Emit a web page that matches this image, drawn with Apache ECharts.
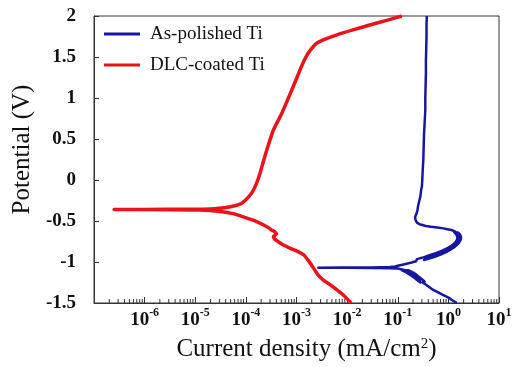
<!DOCTYPE html>
<html><head><meta charset="utf-8">
<script src="https://cdn.jsdelivr.net/npm/echarts@6/dist/echarts.min.js"></script>
<style>html,body{margin:0;padding:0;background:#fff}#c{width:516px;height:367px}</style>
</head><body><div id="c"></div>
<script>
const seriesNames = ['As-polished Ti', 'DLC-coated Ti'];
// As-polished Ti : potential (V) and current density (mA/cm2), noisy bands traced along both edges
const bluePotential = [-1.50,-1.48,-1.46,-1.44,-1.42,-1.40,-1.37,-1.34,-1.31,-1.28,-1.25,-1.24,-1.21,-1.18,-1.15,-1.12,-1.10,-1.10,-1.13,-1.16,-1.19,-1.22,-1.25,-1.22,-1.19,-1.16,-1.13,-1.10,-1.09,-1.08,-1.076,-1.073,-1.071,-1.070,-1.068,-1.066,-1.062,-1.055,-1.045,-1.03,-1.01,-0.99,-0.965,-0.94,-0.915,-0.89,-0.865,-0.84,-0.81,-0.78,-0.75,-0.72,-0.69,-0.66,-0.635,-0.64,-0.67,-0.70,-0.73,-0.76,-0.79,-0.82,-0.85,-0.88,-0.91,-0.94,-0.96,-0.975,-0.955,-0.93,-0.90,-0.87,-0.84,-0.81,-0.78,-0.75,-0.72,-0.69,-0.66,-0.63,-0.61,-0.60,-0.59,-0.58,-0.57,-0.56,-0.54,-0.52,-0.49,-0.45,-0.41,-0.37,-0.33,-0.28,-0.20,-0.12,-0.08,0.0,0.1,0.25,0.4,0.55,0.7,0.85,1.0,1.15,1.3,1.45,1.6,1.75,1.9,2.0];
const blueCurrent = [1.47,1.3,1.15,1.05,0.9,0.78,0.63,0.5,0.43,0.37,0.31,0.34,0.30,0.26,0.23,0.19,0.16,0.12,0.15,0.18,0.21,0.24,0.28,0.27,0.23,0.2,0.17,0.14,0.12,0.1,0.07,0.03,0.01,0.0027,0.008,0.03,0.07,0.09,0.1,0.13,0.18,0.23,0.24,0.33,0.44,0.58,0.74,0.9,1.1,1.28,1.42,1.5,1.5,1.42,1.3,1.55,1.72,1.78,1.74,1.64,1.48,1.3,1.1,0.9,0.7,0.52,0.4,0.33,0.34,0.46,0.64,0.82,1.0,1.2,1.38,1.52,1.62,1.64,1.56,1.38,1.15,0.95,0.8,0.6,0.45,0.36,0.27,0.24,0.225,0.22,0.235,0.245,0.25,0.26,0.28,0.29,0.3,0.305,0.31,0.32,0.325,0.33,0.34,0.35,0.35,0.355,0.36,0.36,0.365,0.37,0.37,0.375];
// DLC-coated Ti
const redPotential = [-1.50,-1.45,-1.40,-1.34,-1.28,-1.22,-1.15,-1.06,-0.98,-0.915,-0.87,-0.83,-0.79,-0.75,-0.72,-0.69,-0.66,-0.63,-0.61,-0.59,-0.54,-0.49,-0.45,-0.41,-0.38,-0.366,-0.362,-0.360,-0.358,-0.354,-0.325,-0.29,-0.24,-0.16,-0.05,0.08,0.22,0.37,0.61,0.81,1.10,1.34,1.45,1.545,1.62,1.667,1.72,1.77,1.83,1.89,1.95,2.0];
const redCurrent = [0.012,0.010,0.0083,0.0063,0.0047,0.0034,0.0026,0.0021,0.0017,0.0014,0.00105,0.00074,0.00054,0.00043,0.00037,0.00035,0.00040,0.00037,0.00032,0.000295,0.00021,0.00014,0.000089,0.000056,0.000028,0.0000126,0.0000032,0.00000025,0.0000032,0.0000195,0.000049,0.000079,0.0001,0.00013,0.00016,0.00019,0.00022,0.00026,0.00035,0.00051,0.00081,0.00117,0.0014,0.0017,0.0021,0.0025,0.0038,0.0063,0.013,0.028,0.063,0.12];
const xDecades = [-7,-6,-5,-4,-3,-2,-1,0];
const minorMantissas = [2,3,4,5,6,7,8,9];

const serif = "'Liberation Serif','Times New Roman',serif";
const minorTicks = [];
xDecades.forEach(d => minorMantissas.forEach(m => minorTicks.push([m * Math.pow(10, d), -1.5])));

const chart = echarts.init(document.getElementById('c'), null, {renderer: 'canvas'});
chart.setOption({
  animation: false,
  backgroundColor: '#fff',
  grid: {left: 94, right: 17, top: 16, bottom: 64, show: true, borderColor: '#333', borderWidth: 1, backgroundColor: 'transparent'},
  legend: {
    orient: 'vertical', left: 104, top: 24, padding: 0, itemWidth: 36, itemHeight: 3, itemGap: 11,
    icon: 'rect',
    data: seriesNames,
    textStyle: {fontFamily: serif, fontSize: 19, color: '#111', lineHeight: 20, padding: [0, 0, 0, 5]}
  },
  xAxis: {
    type: 'log', logBase: 10, min: 1e-7, max: 10,
    name: 'Current density (mA/cm{s|2})',
    nameLocation: 'middle', nameGap: 34,
    nameTextStyle: {fontFamily: serif, fontSize: 25, color: '#111', padding: [0, 0, 0, 20],
      rich: {s: {fontFamily: serif, fontSize: 15, verticalAlign: 'top', lineHeight: 18, color: '#111'}}},
    axisLine: {onZero: false, lineStyle: {color: '#333', width: 1}},
    axisTick: {inside: true, length: 6, lineStyle: {color: '#333'}},
    splitLine: {show: false},
    axisLabel: {
      margin: 4,
      formatter: v => {
        const e = Math.round(Math.log10(v));
        if (e <= -7) return '';
        return '{b|10}{s|' + e + '}';
      },
      rich: {
        b: {fontFamily: serif, fontSize: 19, fontWeight: 'bold', color: '#111', lineHeight: 26},
        s: {fontFamily: serif, fontSize: 12, fontWeight: 'bold', color: '#111', verticalAlign: 'top', lineHeight: 12}
      }
    }
  },
  yAxis: {
    type: 'value', min: -1.5, max: 2, interval: 0.5,
    name: 'Potential (V)', nameLocation: 'middle', nameGap: 44,
    nameTextStyle: {fontFamily: serif, fontSize: 25, color: '#111', padding: [0, 0, 0, 20]},
    axisLine: {show: true, onZero: false, lineStyle: {color: '#333', width: 1}},
    axisTick: {show: true, inside: true, length: 5, lineStyle: {color: '#333'}},
    splitLine: {show: false},
    axisLabel: {margin: 18, fontFamily: serif, fontSize: 19, fontWeight: 'bold', color: '#111'}
  },
  series: [
    {
      name: seriesNames[0], type: 'line', symbol: 'none', smooth: false,
      lineStyle: {color: '#1616a0', width: 2.5, join: 'round'},
      itemStyle: {color: '#1616a0'},
      data: bluePotential.map((p, i) => [blueCurrent[i], p]), z: 3
    },
    {
      name: seriesNames[1], type: 'line', symbol: 'none', smooth: 0.2,
      lineStyle: {color: '#e8131b', width: 3.5, join: 'round'},
      itemStyle: {color: '#e8131b'},
      data: redPotential.map((p, i) => [redCurrent[i], p]), z: 4
    },
    {
      type: 'custom', silent: true, clip: false, z: 5,
      data: minorTicks,
      renderItem: (params, api) => {
        const pt = api.coord([api.value(0), api.value(1)]);
        return {type: 'line', shape: {x1: pt[0], y1: pt[1], x2: pt[0], y2: pt[1] - 4}, style: {stroke: '#333', lineWidth: 1}};
      }
    }
  ]
});
</script></body></html>
